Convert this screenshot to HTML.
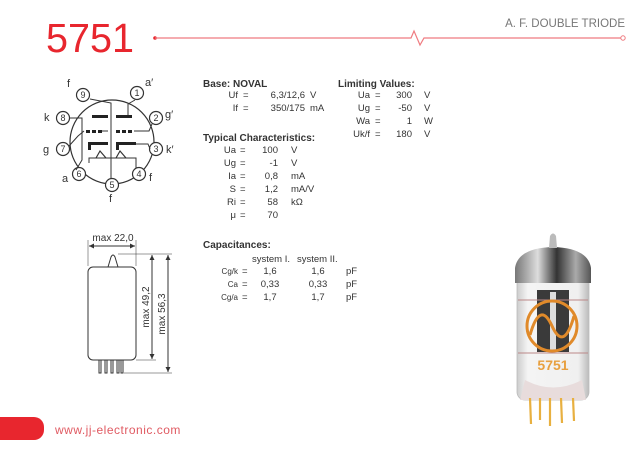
<!DOCTYPE html>
<html><head><meta charset="utf-8"><style>
html,body{margin:0;padding:0;background:#fff;}
svg{display:block;font-family:"Liberation Sans",sans-serif;}
.t{font-size:9.5px;fill:#333;}
.h{font-size:10px;font-weight:bold;fill:#333;}
</style></head><body>
<svg width="640" height="450" viewBox="0 0 640 450" xmlns="http://www.w3.org/2000/svg">
<defs>
<linearGradient id="dome" x1="0" x2="1" y1="0" y2="0">
<stop offset="0" stop-color="#777"/><stop offset="0.3" stop-color="#ddd"/><stop offset="0.55" stop-color="#333"/><stop offset="0.8" stop-color="#aaa"/><stop offset="1" stop-color="#555"/></linearGradient>
<linearGradient id="glass" x1="0" x2="1"><stop offset="0" stop-color="#ccc"/><stop offset="0.15" stop-color="#f4f4f4"/><stop offset="0.85" stop-color="#f0f0f0"/><stop offset="1" stop-color="#bbb"/></linearGradient>
</defs>
<!-- header -->
<text x="46" y="52" font-size="41" fill="#e8262e" style="font-family:'Liberation Sans Narrow','Liberation Sans',sans-serif" font-weight="300" textLength="88" lengthAdjust="spacingAndGlyphs">5751</text>
<circle cx="155" cy="38" r="1.8" fill="#e8262e"/>
<polyline points="155,38 411,38 414,31 420,45 424,38 622,38" fill="none" stroke="#ef7b80" stroke-width="1.2"/>
<circle cx="623" cy="38" r="2.2" fill="#fff" stroke="#ef7b80" stroke-width="1"/>
<text x="625" y="27" font-size="11.5" fill="#777" text-anchor="end">A. F. DOUBLE TRIODE</text>
<!-- pin diagram -->
<g fill="none" stroke="#333" stroke-width="1.2">
<circle cx="112" cy="142" r="42"/>
<g fill="#fff">
<circle cx="83" cy="95" r="6.5"/><circle cx="137" cy="93" r="6.5"/><circle cx="156" cy="118" r="6.5"/><circle cx="156" cy="149" r="6.5"/><circle cx="139" cy="174" r="6.5"/><circle cx="112" cy="185" r="6.5"/><circle cx="79" cy="174" r="6.5"/><circle cx="63" cy="149" r="6.5"/><circle cx="63" cy="118" r="6.5"/>
</g>
<polyline points="90,99 111,103 111,178" stroke-width="1"/>
<polyline points="111,158 89,158 89,163" stroke-width="1"/>
<polyline points="111,158 136,158 136,168" stroke-width="1"/>
<polyline points="96,158 100,151 106,158" /><polyline points="116,158 120,151 126,158"/>
<polyline points="128,116 128,104 135,100" stroke-width="1"/>
<polyline points="108,131 102,131" stroke-width="1"/>
</g>
<g fill="#222">
<rect x="92" y="115" width="16" height="3"/><rect x="116" y="115" width="16" height="3"/>
<rect x="86" y="130" width="4" height="3"/><rect x="92" y="130" width="4" height="3"/><rect x="98" y="130" width="4" height="3"/>
<rect x="116" y="130" width="4" height="3"/><rect x="122" y="130" width="4" height="3"/><rect x="128" y="130" width="4" height="3"/>
<rect x="88" y="142" width="20" height="3"/><rect x="88" y="142" width="3" height="8"/>
<rect x="116" y="142" width="20" height="3"/><rect x="116" y="142" width="3" height="8"/>
</g>
<g fill="none" stroke="#333" stroke-width="1">
<polyline points="69,118 82,118 82,160 76,170"/>
<polyline points="134,131 149,131 152,124"/>
<polyline points="136,144 148,144 150,149"/>
<polyline points="69,146 78,136 84,131"/>
</g>
<g font-size="9" fill="#333" text-anchor="middle">
<text x="83" y="98">9</text><text x="137" y="96">1</text><text x="156" y="121">2</text><text x="156" y="152">3</text><text x="139" y="177">4</text><text x="112" y="188">5</text><text x="79" y="177">6</text><text x="63" y="152">7</text><text x="63" y="121">8</text>
</g>
<g font-size="11" fill="#333">
<text x="67" y="87">f</text><text x="145" y="86">a′</text><text x="165" y="118">g′</text><text x="166" y="153">k′</text><text x="149" y="181">f</text><text x="109" y="202">f</text><text x="62" y="182">a</text><text x="43" y="153">g</text><text x="44" y="121">k</text>
</g>
<!-- tube outline -->
<g fill="none" stroke="#333" stroke-width="1">
<rect x="88" y="267" width="48" height="93" rx="5"/>
<path d="M108,267 L111,257 Q113,253 115,257 L118,267"/>
<line x1="88" y1="240" x2="88" y2="266" stroke-width="0.5"/><line x1="136" y1="240" x2="136" y2="266" stroke-width="0.5"/>
<line x1="89" y1="246" x2="135" y2="246"/>
<line x1="118" y1="254" x2="172" y2="254" stroke-width="0.5"/>
<line x1="136" y1="360" x2="156" y2="360" stroke-width="0.5"/>
<line x1="124" y1="373" x2="172" y2="373" stroke-width="0.5"/>
<line x1="152" y1="255" x2="152" y2="359"/>
<line x1="168" y1="255" x2="168" y2="372"/>
<rect x="99" y="360" width="2" height="13"/><rect x="105" y="360" width="2" height="13"/><rect x="111" y="360" width="2" height="13"/><rect x="117" y="360" width="2" height="13"/><rect x="121" y="360" width="2" height="13"/>
</g>
<g fill="#333">
<path d="M89,246 l5,-2.5 v5z"/><path d="M135,246 l-5,-2.5 v5z"/>
<path d="M152,255 l-2.5,5 h5z"/><path d="M152,359 l-2.5,-5 h5z"/>
<path d="M168,255 l-2.5,5 h5z"/><path d="M168,372 l-2.5,-5 h5z"/>
</g>
<text x="113" y="241" font-size="10" fill="#333" text-anchor="middle">max 22,0</text>
<text transform="translate(149,307) rotate(-90)" font-size="10" fill="#333" text-anchor="middle">max 49,2</text>
<text transform="translate(165,314) rotate(-90)" font-size="10" fill="#333" text-anchor="middle">max 56,3</text>
<!-- text data -->
<text x="203" y="87" class="h">Base: NOVAL</text>
<g class="t">
<text x="238" y="98" text-anchor="end">Uf</text><text x="243" y="98">=</text><text x="305" y="98" text-anchor="end">6,3/12,6</text><text x="310" y="98">V</text>
<text x="238" y="111" text-anchor="end">If</text><text x="243" y="111">=</text><text x="305" y="111" text-anchor="end">350/175</text><text x="310" y="111">mA</text>
</g>
<text x="203" y="141" class="h">Typical Characteristics:</text>
<g class="t">
<text x="236" y="153" text-anchor="end">Ua</text><text x="240" y="153">=</text><text x="278" y="153" text-anchor="end">100</text><text x="291" y="153">V</text>
<text x="236" y="166" text-anchor="end">Ug</text><text x="240" y="166">=</text><text x="278" y="166" text-anchor="end">-1</text><text x="291" y="166">V</text>
<text x="236" y="179" text-anchor="end">Ia</text><text x="240" y="179">=</text><text x="278" y="179" text-anchor="end">0,8</text><text x="291" y="179">mA</text>
<text x="236" y="192" text-anchor="end">S</text><text x="240" y="192">=</text><text x="278" y="192" text-anchor="end">1,2</text><text x="291" y="192">mA/V</text>
<text x="236" y="205" text-anchor="end">Ri</text><text x="240" y="205">=</text><text x="278" y="205" text-anchor="end">58</text><text x="291" y="205">kΩ</text>
<text x="236" y="218" text-anchor="end">μ</text><text x="240" y="218">=</text><text x="278" y="218" text-anchor="end">70</text>
</g>
<text x="203" y="248" class="h">Capacitances:</text>
<g class="t">
<text x="252" y="262">system I.</text><text x="297" y="262">system II.</text>
<text x="238" y="274" text-anchor="end" font-size="8">Cg/k</text><text x="242" y="274">=</text><text x="270" y="274" text-anchor="middle">1,6</text><text x="318" y="274" text-anchor="middle">1,6</text><text x="346" y="274">pF</text>
<text x="238" y="287" text-anchor="end" font-size="8">Ca</text><text x="242" y="287">=</text><text x="270" y="287" text-anchor="middle">0,33</text><text x="318" y="287" text-anchor="middle">0,33</text><text x="346" y="287">pF</text>
<text x="238" y="300" text-anchor="end" font-size="8">Cg/a</text><text x="242" y="300">=</text><text x="270" y="300" text-anchor="middle">1,7</text><text x="318" y="300" text-anchor="middle">1,7</text><text x="346" y="300">pF</text>
</g>
<text x="338" y="87" class="h">Limiting Values:</text>
<g class="t">
<text x="370" y="98" text-anchor="end">Ua</text><text x="375" y="98">=</text><text x="412" y="98" text-anchor="end">300</text><text x="424" y="98">V</text>
<text x="370" y="111" text-anchor="end">Ug</text><text x="375" y="111">=</text><text x="412" y="111" text-anchor="end">-50</text><text x="424" y="111">V</text>
<text x="370" y="124" text-anchor="end">Wa</text><text x="375" y="124">=</text><text x="412" y="124" text-anchor="end">1</text><text x="424" y="124">W</text>
<text x="370" y="137" text-anchor="end">Uk/f</text><text x="375" y="137">=</text><text x="412" y="137" text-anchor="end">180</text><text x="424" y="137">V</text>
</g>
<!-- tube photo -->
<g>
<rect x="517" y="265" width="72" height="135" rx="8" fill="url(#glass)" stroke="#bbb" stroke-width="0.8"/>
<path d="M515,283 L515,268 Q518,248 553,247 Q588,248 591,268 L591,283 Z" fill="url(#dome)"/>
<path d="M549,248 L550,236 Q553,231 556,236 L557,248Z" fill="#bbb"/>
<rect x="537" y="290" width="32" height="62" fill="#3a3a3a"/>
<rect x="550" y="292" width="6" height="58" fill="#ddd"/>
<line x1="518" y1="300" x2="588" y2="300" stroke="#b88" stroke-width="1"/>
<line x1="518" y1="353" x2="588" y2="353" stroke="#b88" stroke-width="1"/>
<circle cx="552" cy="326" r="25" fill="none" stroke="#e08a2a" stroke-width="3"/>
<path d="M530,335 Q540,300 552,326 Q564,352 574,316" fill="none" stroke="#e08a2a" stroke-width="3"/>
<text x="553" y="370" font-size="14" font-weight="bold" fill="#e8a040" text-anchor="middle">5751</text>
<path d="M525,380 Q553,395 582,380 L586,400 L520,400Z" fill="#e8dcdc"/>
<g stroke="#e8b040" stroke-width="2.2">
<line x1="530" y1="398" x2="531" y2="424"/><line x1="540" y1="398" x2="540" y2="420"/><line x1="550" y1="398" x2="550" y2="426"/><line x1="561" y1="398" x2="562" y2="423"/><line x1="573" y1="398" x2="574" y2="421"/>
</g>
</g>
<!-- footer -->
<rect x="-10" y="417" width="54" height="23" rx="10" fill="#e8262e"/>
<text x="55" y="434" font-size="12" fill="#e05a62" letter-spacing="0.5">www.jj-electronic.com</text>
</svg>
</body></html>
